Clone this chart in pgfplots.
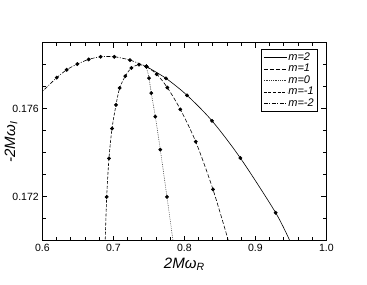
\documentclass[border=0pt]{standalone}
\usepackage{fontspec}
\setmainfont{Liberation Sans}
\usepackage{pgfplots}
\pgfplotsset{compat=1.18}
\begin{document}
\begin{tikzpicture}
\begin{axis}[
  at={(0,0)}, anchor=south west,
  scale only axis, width=284pt, height=198pt,
  xmin=0.6, xmax=1.0, ymin=0.170, ymax=0.179,
  xtick={0.6,0.7,0.8,0.9,1.0}, minor x tick num=4,
  ytick={0.172,0.176}, minor ytick={0.171,0.173,0.174,0.175,0.177,0.178},
  tick align=inside, major tick length=5pt, minor tick length=3.5pt,
  tick style={black, line width=0.6pt},
  axis line style={line width=0.8pt},
  x tick label style={/pgf/number format/.cd, fixed, fixed zerofill, precision=1, assume math mode=true},
  y tick label style={/pgf/number format/.cd, fixed, fixed zerofill, precision=3, assume math mode=true},
  tick label style={font=\fontsize{10.5}{12}\selectfont},
  scaled ticks=false,
  xlabel={\textit{2Mω}\textsubscript{\textit{R}}},
  ylabel={\textit{-2Mω}\kern0.5pt\textsubscript{\textit{I}}},
  label style={font=\fontsize{15}{17}\selectfont},
  xlabel style={at={(axis description cs:0.5,-0.138)}, anchor=base},
  ylabel style={at={(axis description cs:-0.110,0.50)}, anchor=center},
  legend style={at={(axis description cs:0.968,0.967)}, anchor=north east, draw=black,
    line width=0.6pt, font=\fontsize{11}{11}\selectfont\itshape, inner sep=2pt,
    row sep=0pt, nodes={inner sep=1.2pt}},
  legend cell align=left,
  legend image code/.code={\draw[#1, mark=none] (0pt,0pt) -- (23pt,0pt);},
  every axis plot/.append style={black, line width=0.6pt},
  mk/.style={mark=*, mark size=1.6pt, mark options={solid, fill=black, draw=black}},
]
% m=2
\addplot[smooth, solid, mk, mark indices={1,2,3,4,5,6}] coordinates {
 (0.7465,0.17792) (0.7742,0.17738) (0.8038,0.17661) (0.8390,0.17545)
 (0.8789,0.17376) (0.9287,0.17127) (0.9500,0.16990)
};
\addlegendentry{m=2}
% m=1
\addplot[smooth, dash pattern=on 4pt off 2pt, mk, mark indices={1,2,3,4,5,6}] coordinates {
 (0.7465,0.17792) (0.7611,0.17757) (0.7761,0.17696) (0.7944,0.17597)
 (0.8161,0.17450) (0.8404,0.17233) (0.8630,0.16990)
};
\addlegendentry{m=1}
% m=0
\addplot[smooth, dash pattern=on 0.7pt off 1.1pt, black!80, mk, mark indices={1,2,3,4,5,6}] coordinates {
 (0.7465,0.17792) (0.7503,0.17739) (0.7535,0.17671) (0.7592,0.17564)
 (0.7662,0.17414) (0.7756,0.17199) (0.7845,0.16990)
};
\addlegendentry{m=0}
% m=-1
\addplot[smooth, dash pattern=on 3pt off 1.6pt, mk, mark indices={1,2,3,4,5,6,7,8,9}] coordinates {
 (0.7465,0.17792) (0.7362,0.17800) (0.7254,0.17785) (0.7169,0.17748)
 (0.7090,0.17694) (0.7038,0.17617) (0.6982,0.17510) (0.6939,0.17374)
 (0.6907,0.17199) (0.6885,0.16990)
};
\addlegendentry{m=-1}
% m=-2
\addplot[smooth, dash pattern=on 4pt off 1.5pt on 1pt off 1.5pt, mk, mark indices={2,3,4,5,6,7,8,9,10}] coordinates {
 (0.5950,0.17663) (0.6070,0.17700) (0.6203,0.17741) (0.6344,0.17777)
 (0.6493,0.17803) (0.6653,0.17824) (0.6822,0.17836) (0.7014,0.17836)
 (0.7235,0.17821) (0.7465,0.17792)
};
\addlegendentry{m=-2}
\end{axis}
\pgfresetboundingbox
\path[use as bounding box] (-42.3pt,-43.3pt) rectangle (324.7pt,240.7pt);
\end{tikzpicture}
\end{document}
